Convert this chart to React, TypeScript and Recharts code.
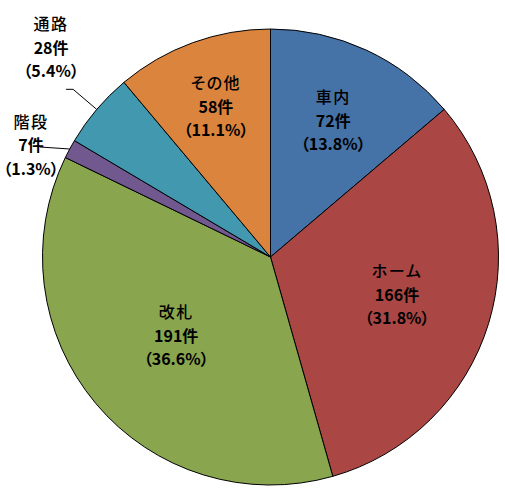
import { PieChart, Pie, Cell } from "recharts";

const places = ["車内", "ホーム", "改札", "階段", "通路", "その他"];
const counts = [72, 166, 191, 7, 28, 58];
const shares = ["13.8%", "31.8%", "36.6%", "1.3%", "5.4%", "11.1%"];
const colors = ["#4572A7", "#AA4643", "#89A54E", "#71588F", "#4198AF", "#DB843D"];

const data = places.map((name, i) => ({
  name,
  value: counts[i],
  share: shares[i],
}));

const RAD = Math.PI / 180;
const LINE = 23.5;

// how far in from the rim each inside label sits
const labelDepth: Record<string, number> = {
  車内: 0.655,
  ホーム: 0.58,
  改札: 0.54,
  その他: 0.7,
};

function Lines({ x, y, entry }: { x: number; y: number; entry: any }) {
  // y is the middle line's centre
  const top = y - LINE + 5.5;
  return (
    <text
      x={x}
      y={top}
      textAnchor="middle"
      fontSize={16}
      fill="#000"
      fontFamily="'Noto Sans CJK JP', sans-serif"
      style={{ fontFeatureSettings: '"palt"' }}
    >
      <tspan x={x} dy={0} fontWeight={500} letterSpacing={1.5}>{entry.name}</tspan>
      <tspan x={x} dy={LINE} fontWeight={700}>{entry.value}件</tspan>
      <tspan x={x} dy={LINE} fontWeight={700}>（{entry.share}）</tspan>
    </text>
  );
}

function renderLabel(props: any) {
  const { cx, cy, midAngle, outerRadius, payload } = props;
  const entry = payload;
  const cos = Math.cos(-midAngle * RAD);
  const sin = Math.sin(-midAngle * RAD);
  const sx = cx + outerRadius * cos;
  const sy = cy + outerRadius * sin;

  if (entry.name === "通路") {
    const ex = cx + (outerRadius + 31) * cos;
    const ey = cy + (outerRadius + 31) * sin;
    return (
      <g>
        <polyline
          points={`${sx},${sy} ${ex},${ey} ${ex - 7},${ey}`}
          fill="none"
          stroke="#000"
          strokeWidth={1}
        />
        <Lines x={ex - 22} y={ey - 41} entry={entry} />
      </g>
    );
  }
  if (entry.name === "階段") {
    return (
      <g>
        <polyline
          points={`${sx},${sy} ${sx - 30},${sy - 2}`}
          fill="none"
          stroke="#000"
          strokeWidth={1}
        />
        <Lines x={31} y={sy - 3} entry={entry} />
      </g>
    );
  }
  const r = outerRadius * (labelDepth[entry.name] ?? 0.6);
  return <Lines x={cx + r * cos} y={cy + r * sin} entry={entry} />;
}

export default function App() {
  return (
    <div style={{ position: "absolute", left: 0, top: 0, background: "#fff" }}>
      <PieChart width={505} height={500} margin={{ top: 0, right: 0, bottom: 0, left: 0 }}>
        <Pie
          data={data}
          dataKey="value"
          nameKey="name"
          cx={270.5}
          cy={257}
          outerRadius={228}
          startAngle={90}
          endAngle={-270}
          stroke="#000"
          strokeWidth={1}
          label={renderLabel}
          labelLine={false}
          isAnimationActive={false}
        >
          {data.map((d, i) => (
            <Cell key={d.name} fill={colors[i]} />
          ))}
        </Pie>
      </PieChart>
    </div>
  );
}
